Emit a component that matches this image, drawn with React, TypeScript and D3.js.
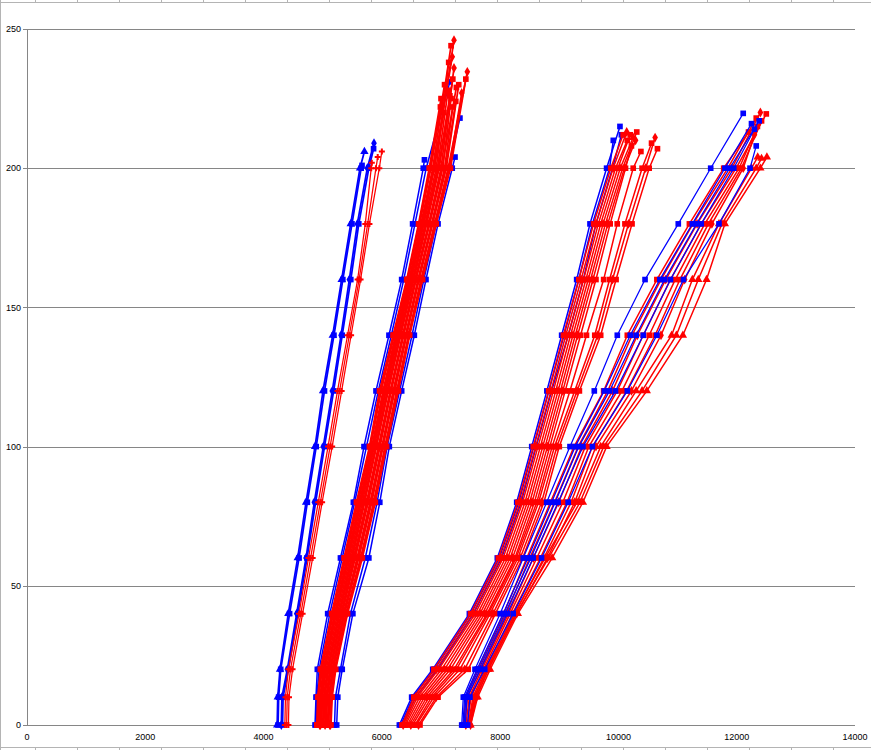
import * as d3 from 'd3';

// y levels shared by every series; each series lists its x at these levels, plus a last [y, x] point
const Y_LEVELS = [0, 10, 20, 40, 60, 80, 100, 120, 140, 160, 180, 200];

const X_TICKS = [0, 2000, 4000, 6000, 8000, 10000, 12000, 14000];
const Y_TICKS = [0, 50, 100, 150, 200, 250];

type Series = { x: number[]; end: [number, number] };

// left bundle
const BLUE_A: Series[] = [
  { x: [4230, 4240, 4278, 4418, 4577, 4718, 4870, 5005, 5169, 5320, 5473, 5630], end: [206, 5705] },
  { x: [4245, 4255, 4290, 4440, 4600, 4740, 4890, 5030, 5190, 5340, 5495, 5650], end: [201, 5665] },
  { x: [4300, 4310, 4402, 4560, 4718, 4858, 5010, 5162, 5310, 5450, 5585, 5754], end: [209, 5867] },
  { x: [4320, 4330, 4420, 4580, 4735, 4880, 5030, 5185, 5330, 5475, 5610, 5780], end: [207, 5860] },
];
const RED_A: Series[] = [
  { x: [4360, 4370, 4420, 4600, 4760, 4925, 5090, 5250, 5420, 5590, 5720, 5820], end: [202, 5830] },
  { x: [4390, 4400, 4455, 4630, 4795, 4960, 5125, 5285, 5450, 5615, 5760, 5900], end: [204, 5930] },
  { x: [4420, 4430, 4490, 4660, 4830, 4990, 5160, 5320, 5480, 5640, 5790, 5957], end: [206, 6000] },
];

// dense middle bundle
const BLUE_B: Series[] = [
  { x: [4870, 4886, 4909, 5084, 5300, 5518, 5698, 5901, 6120, 6335, 6520, 6700], end: [203, 6720] },
  { x: [4890, 4900, 4940, 5120, 5330, 5540, 5740, 5940, 6160, 6370, 6560, 6750], end: [231, 7150] },
  { x: [5236, 5255, 5330, 5510, 5780, 5965, 6126, 6335, 6549, 6746, 6950, 7190], end: [204, 7237] },
  { x: [5200, 5215, 5300, 5470, 5720, 5920, 6090, 6300, 6510, 6710, 6920, 7130], end: [218, 7320] },
];
const RED_B: Series[] = [
  { x: [4900, 4915, 4960, 5150, 5360, 5570, 5790, 5960, 6190, 6420, 6620, 6800], end: [225, 7000] },
  { x: [4920, 4935, 4990, 5180, 5390, 5600, 5810, 5990, 6210, 6440, 6640, 6830], end: [230, 7060] },
  { x: [4940, 4955, 5010, 5200, 5410, 5620, 5830, 6020, 6230, 6460, 6660, 6860], end: [244, 7170] },
  { x: [4960, 4975, 5030, 5220, 5430, 5640, 5850, 6040, 6260, 6480, 6690, 6890], end: [246, 7220] },
  { x: [4980, 4995, 5060, 5250, 5460, 5670, 5870, 6070, 6280, 6500, 6710, 6920], end: [238, 7130] },
  { x: [5000, 5015, 5080, 5270, 5480, 5690, 5890, 6090, 6300, 6520, 6730, 6940], end: [228, 7120] },
  { x: [5020, 5035, 5100, 5290, 5500, 5710, 5910, 6110, 6320, 6540, 6760, 6970], end: [232, 7200] },
  { x: [5040, 5055, 5120, 5310, 5520, 5740, 5940, 6140, 6350, 6560, 6790, 7000], end: [236, 7220] },
  { x: [5060, 5080, 5140, 5330, 5550, 5770, 5970, 6160, 6370, 6580, 6810, 7030], end: [225, 7170] },
  { x: [5080, 5100, 5160, 5350, 5580, 5800, 6000, 6190, 6400, 6610, 6840, 7060], end: [222, 7200] },
  { x: [5100, 5120, 5180, 5370, 5610, 5830, 6020, 6220, 6420, 6630, 6860, 7090], end: [230, 7300] },
  { x: [5120, 5140, 5200, 5390, 5640, 5860, 6050, 6250, 6450, 6660, 6890, 7120], end: [234.6, 7445] },
  { x: [5140, 5160, 5220, 5420, 5670, 5890, 6080, 6280, 6470, 6690, 6920, 7160], end: [232, 7420] },
  { x: [4980, 4990, 5040, 5230, 5440, 5650, 5860, 6060, 6270, 6490, 6700, 6880], end: [220, 7050] },
  { x: [4910, 4925, 4975, 5165, 5375, 5585, 5800, 5975, 6200, 6430, 6630, 6815], end: [222, 6990] },
  { x: [4950, 4965, 5020, 5210, 5420, 5630, 5840, 6030, 6245, 6470, 6675, 6875], end: [240, 7190] },
  { x: [5010, 5025, 5090, 5280, 5490, 5700, 5900, 6100, 6310, 6530, 6745, 6955], end: [226, 7150] },
  { x: [5050, 5068, 5130, 5320, 5535, 5755, 5955, 6150, 6360, 6570, 6800, 7015], end: [229, 7260] },
  { x: [5090, 5110, 5170, 5360, 5595, 5815, 6010, 6205, 6410, 6620, 6850, 7075], end: [224, 7250] },
  { x: [5130, 5150, 5210, 5405, 5655, 5875, 6065, 6265, 6460, 6675, 6905, 7140], end: [227, 7350] },
];

// curved bundle
const BLUE_C: Series[] = [
  { x: [6296, 6504, 6860, 7480, 7952, 8280, 8534, 8790, 9040, 9294, 9519, 9800], end: [215, 10026] },
  { x: [6320, 6530, 6890, 7510, 7985, 8315, 8570, 8825, 9080, 9330, 9560, 9850], end: [210, 9913] },
  { x: [6350, 6570, 6940, 7550, 8025, 8355, 8610, 8870, 9152, 9407, 9620, 9900], end: [212, 10050] },
];
const RED_C: Series[] = [
  { x: [6340, 6540, 6880, 7500, 7970, 8300, 8560, 8820, 9070, 9330, 9580, 9870], end: [212, 10080] },
  { x: [6360, 6570, 6920, 7540, 8010, 8340, 8600, 8860, 9110, 9370, 9620, 9910], end: [213, 10140] },
  { x: [6380, 6600, 6960, 7580, 8050, 8380, 8640, 8900, 9150, 9410, 9660, 9950], end: [210, 10150] },
  { x: [6400, 6640, 7010, 7620, 8090, 8420, 8680, 8940, 9190, 9450, 9700, 9990], end: [212, 10200] },
  { x: [6430, 6680, 7060, 7660, 8130, 8460, 8720, 8980, 9230, 9490, 9740, 10030], end: [211, 10250] },
  { x: [6460, 6720, 7110, 7700, 8170, 8500, 8760, 9020, 9270, 9530, 9780, 10070], end: [213, 10310] },
  { x: [6490, 6760, 7160, 7740, 8210, 8540, 8800, 9060, 9310, 9570, 9820, 10100], end: [210, 10290] },
  { x: [6520, 6800, 7220, 7780, 8250, 8580, 8840, 9100, 9360, 9620, 9860, 10120], end: [208, 10220] },
  { x: [6560, 6840, 7260, 7800, 8270, 8620, 8880, 9180, 9460, 9750, 9980, 10250], end: [206, 10380] },
  { x: [6580, 6880, 7320, 7830, 8300, 8650, 8920, 9260, 9600, 9850, 10110, 10400], end: [209, 10560] },
  { x: [6620, 6920, 7400, 7880, 8340, 8700, 8960, 9300, 9650, 9900, 10170, 10460], end: [211, 10620] },
  { x: [6645, 6950, 7460, 7920, 8380, 8740, 9000, 9340, 9700, 9960, 10230, 10520], end: [207, 10660] },
];

// right bundle
const BLUE_D: Series[] = [
  { x: [7350, 7377, 7575, 8000, 8390, 8787, 9181, 9592, 9981, 10450, 11012, 11560], end: [219.7, 12110] },
  { x: [7370, 7400, 7610, 8050, 8470, 8870, 9270, 9760, 10200, 10700, 11250, 11800], end: [216, 12250] },
  { x: [7390, 7420, 7640, 8080, 8520, 8930, 9330, 9850, 10300, 10780, 11320, 11880], end: [217, 12380] },
  { x: [7410, 7440, 7670, 8120, 8560, 8980, 9400, 9950, 10420, 10880, 11400, 11950], end: [214, 12300] },
  { x: [7450, 7490, 7740, 8220, 8700, 9150, 9560, 10150, 10650, 11100, 11700, 12225], end: [208, 12330] },
];
const RED_D: Series[] = [
  { x: [7380, 7420, 7620, 8060, 8450, 8850, 9250, 9750, 10150, 10650, 11200, 11780], end: [213, 12200] },
  { x: [7400, 7450, 7660, 8100, 8500, 8920, 9320, 9820, 10230, 10720, 11260, 11850], end: [218, 12330] },
  { x: [7420, 7480, 7690, 8140, 8560, 8990, 9380, 9900, 10320, 10800, 11330, 11920], end: [220, 12400] },
  { x: [7440, 7510, 7720, 8170, 8620, 9060, 9440, 9980, 10420, 10880, 11400, 11990], end: [219.5, 12500] },
  { x: [7460, 7540, 7750, 8210, 8680, 9130, 9500, 10060, 10520, 10960, 11460, 12040], end: [215, 12350] },
  { x: [7480, 7570, 7770, 8250, 8740, 9200, 9560, 10140, 10620, 11040, 11520, 12080], end: [217, 12420] },
  { x: [7500, 7600, 7800, 8280, 8800, 9260, 9620, 10220, 10720, 11120, 11580, 12110], end: [212, 12300] },
  { x: [7460, 7560, 7780, 8240, 8760, 9300, 9700, 10300, 10900, 11250, 11700, 12250], end: [204, 12355] },
  { x: [7480, 7590, 7800, 8270, 8820, 9350, 9750, 10400, 10980, 11350, 11750, 12330], end: [203.5, 12420] },
  { x: [7500, 7620, 7830, 8300, 8880, 9400, 9800, 10480, 11090, 11490, 11800, 12400], end: [204, 12510] },
];

// marker shapes for the red groups
const RED_D_SHAPES = ['square', 'square', 'diamond', 'square', 'square', 'square', 'diamond', 'triangle', 'triangle', 'triangle'];
const RED_C_SHAPES = ['square', 'diamond', 'square', 'square', 'triangle', 'square', 'diamond', 'square', 'square', 'square', 'diamond', 'square'];

const W = 878;
const H = 750;
const BLUE = '#0000ff';
const RED = '#ff0000';

const x = d3.scaleLinear().domain([0, 14000]).range([27, 855]);
const y = d3.scaleLinear().domain([0, 250]).range([725, 29]);

const symbols: Record<string, d3.SymbolType> = {
  square: d3.symbolSquare,
  triangle: d3.symbolTriangle,
  diamond: d3.symbolDiamond,
  cross: d3.symbolCross,
};
const symbolSize: Record<string, number> = { square: 32, triangle: 30, diamond: 28, cross: 20 };

function pointsOf(s: Series): [number, number][] {
  const pts: [number, number][] = Y_LEVELS.map((lv, i) => [x(s.x[i]), y(lv)]);
  pts.push([x(s.end[1]), y(s.end[0])]);
  return pts;
}

const line = d3.line();

function SeriesMarks({ s, color, shape, width = 1.5 }: { s: Series; color: string; shape: string; width?: number }) {
  const pts = pointsOf(s);
  const sym = d3.symbol(symbols[shape], symbolSize[shape])() || '';
  return (
    <g>
      <path d={line(pts) || ''} fill="none" stroke={color} strokeWidth={width} />
      {pts.map((p, i) => (
        <path key={i} d={sym} transform={`translate(${p[0]},${p[1]})`} fill={color} stroke="none" />
      ))}
    </g>
  );
}

export default function App() {
  const frameTicks = d3.range(35, 872, 42);
  const font = "'Liberation Sans', Arial, sans-serif";
  return (
    <svg width={W} height={H} style={{ position: 'absolute', left: 0, top: 0, background: '#fff' }}>
      {/* outer frame */}
      <g stroke="#b4b4b4" strokeWidth={1}>
        <line x1={0} x2={871} y1={2.5} y2={2.5} />
        <line x1={0} x2={871} y1={747.5} y2={747.5} />
        <line x1={0.5} x2={0.5} y1={0} y2={750} />
        {frameTicks.map((t) => (
          <g key={t}>
            <line x1={t + 0.5} x2={t + 0.5} y1={0} y2={2.5} />
            <line x1={t + 0.5} x2={t + 0.5} y1={747.5} y2={750} />
          </g>
        ))}
      </g>

      {/* gridlines */}
      {Y_TICKS.filter((t) => t > 0).map((t) => (
        <line key={t} x1={x(0)} x2={x(14000)} y1={Math.round(y(t)) + 0.5} y2={Math.round(y(t)) + 0.5} stroke="#868686" strokeWidth={1} />
      ))}

      {/* axes */}
      <line x1={x(0) + 0.5} x2={x(0) + 0.5} y1={y(250)} y2={y(0)} stroke="#868686" />
      <line x1={x(0)} x2={x(14000)} y1={Math.round(y(0)) + 0.5} y2={Math.round(y(0)) + 0.5} stroke="#868686" />
      {Y_TICKS.map((t) => (
        <g key={t}>
          <line x1={x(0) - 4} x2={x(0)} y1={Math.round(y(t)) + 0.5} y2={Math.round(y(t)) + 0.5} stroke="#868686" />
          <text x={21} y={y(t)} dy="0.35em" textAnchor="end" fontSize={9} fontFamily={font} fill="#000">
            {t}
          </text>
        </g>
      ))}
      {X_TICKS.map((t) => (
        <text key={t} x={x(t)} y={740} textAnchor="middle" fontSize={9} fontFamily={font} fill="#000">
          {t}
        </text>
      ))}

      {/* series */}
      {BLUE_A.map((s, i) => <SeriesMarks key={`ba${i}`} s={s} color={BLUE} shape={i === 0 ? 'triangle' : i === 2 ? 'diamond' : 'square'} width={1.75} />)}
      {RED_A.map((s, i) => <SeriesMarks key={`ra${i}`} s={s} color={RED} shape="cross" width={1.25} />)}
      {BLUE_B.map((s, i) => <SeriesMarks key={`bb${i}`} s={s} color={BLUE} shape="square" />)}
      {RED_B.map((s, i) => <SeriesMarks key={`rb${i}`} s={s} color={RED} shape={i % 4 === 3 ? 'diamond' : 'square'} width={1.75} />)}
      {BLUE_C.map((s, i) => <SeriesMarks key={`bc${i}`} s={s} color={BLUE} shape="square" />)}
      {RED_C.map((s, i) => <SeriesMarks key={`rc${i}`} s={s} color={RED} shape={RED_C_SHAPES[i]} />)}
      {RED_D.map((s, i) => <SeriesMarks key={`rd${i}`} s={s} color={RED} shape={RED_D_SHAPES[i]} />)}
      {BLUE_D.map((s, i) => <SeriesMarks key={`bd${i}`} s={s} color={BLUE} shape="square" width={1.25} />)}
    </svg>
  );
}
